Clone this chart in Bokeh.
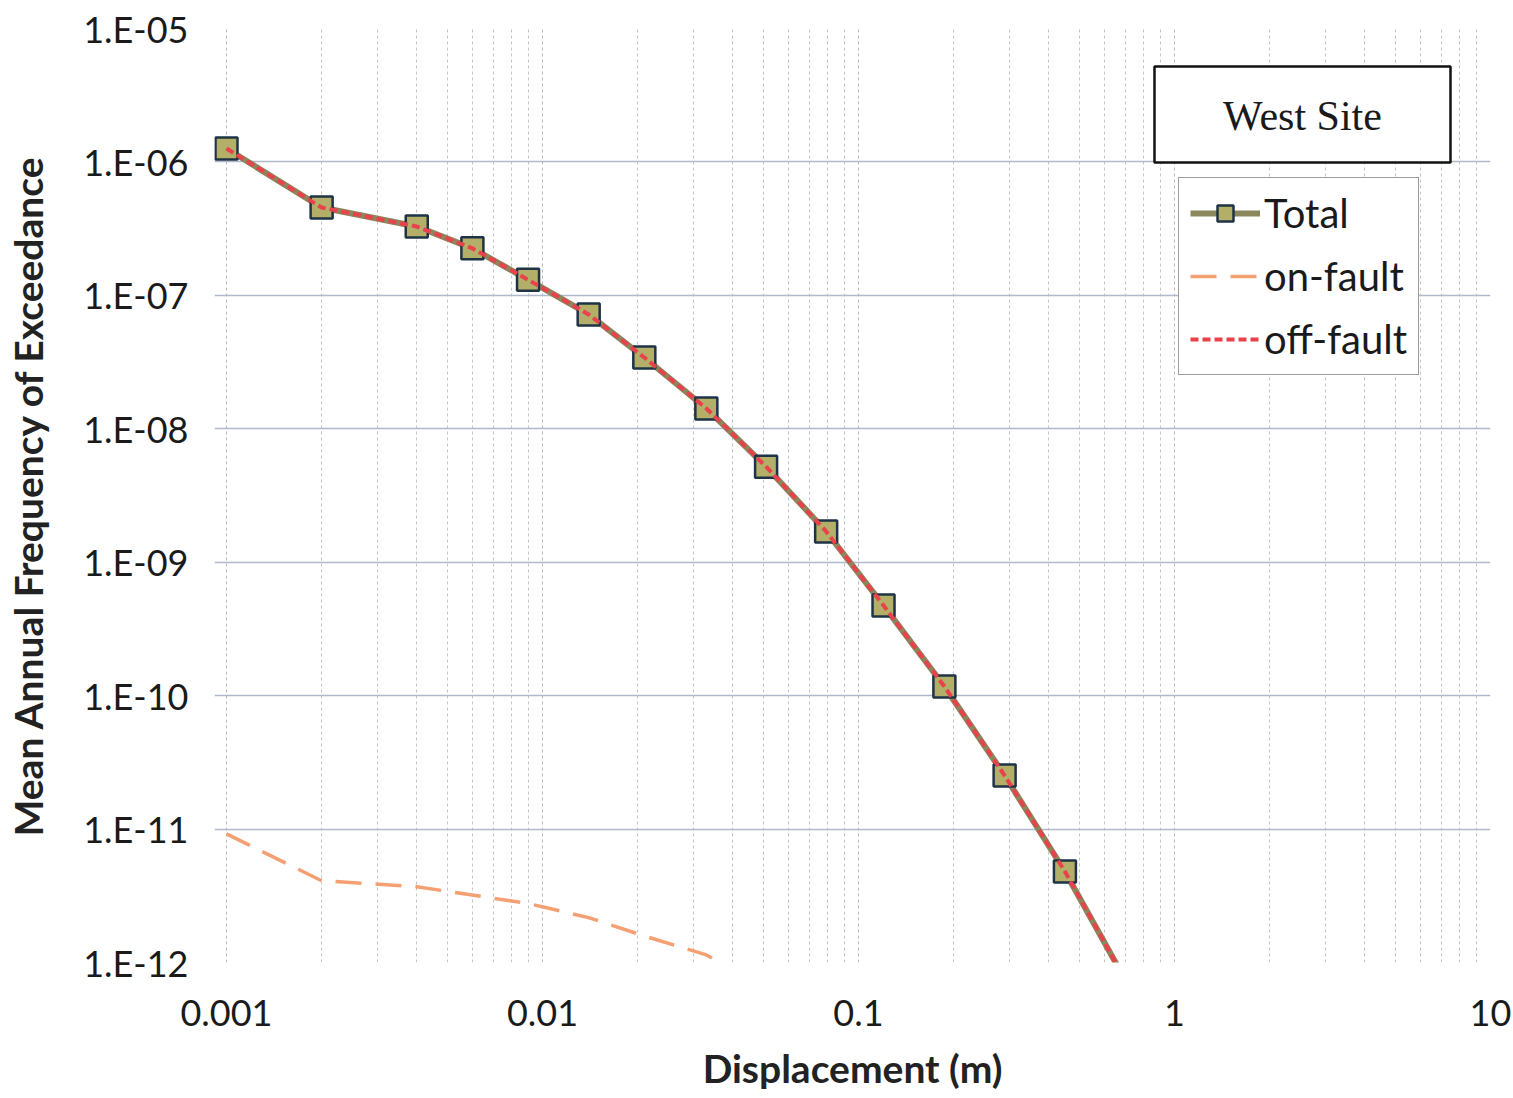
from bokeh.plotting import figure
from bokeh.models import (FixedTicker, CustomJSTickFormatter, Legend, LegendItem,
                          BoxAnnotation, Label)
from bokeh.embed import file_html
from bokeh.resources import INLINE

# Displacement hazard curve, West Site
displacement = [0.001, 0.002, 0.004, 0.006, 0.009, 0.014, 0.021, 0.033,
                0.051, 0.079, 0.12, 0.187, 0.29, 0.45, 0.69]
total = [1.26e-6, 4.55e-7, 3.28e-7, 2.25e-7, 1.31e-7, 7.2e-8, 3.42e-8, 1.42e-8,
         5.2e-9, 1.70e-9, 4.74e-10, 1.17e-10, 2.52e-11, 4.81e-12, 7.8e-13]
off_fault = [1.26e-6, 4.55e-7, 3.28e-7, 2.25e-7, 1.31e-7, 7.2e-8, 3.42e-8, 1.42e-8,
             5.2e-9, 1.70e-9, 4.74e-10, 1.17e-10, 2.52e-11, 4.81e-12, 7.8e-13]
on_fault_disp = [0.001, 0.002, 0.004, 0.006, 0.009, 0.014, 0.021, 0.033, 0.051]
on_fault = [9.2e-12, 4.1e-12, 3.7e-12, 3.2e-12, 2.77e-12, 2.17e-12, 1.58e-12,
            1.14e-12, 6.3e-13]

x_tick_values = [0.001, 0.01, 0.1, 1, 10]
x_tick_labels = ["0.001", "0.01", "0.1", "1", "10"]
y_tick_values = [1e-12, 1e-11, 1e-10, 1e-9, 1e-8, 1e-7, 1e-6, 1e-5]
y_tick_labels = ["1.E-12", "1.E-11", "1.E-10", "1.E-09", "1.E-08", "1.E-07",
                 "1.E-06", "1.E-05"]

FONT = "Lato"

# a small margin left of 0.001 so the first marker is not cut and the
# horizontal gridlines stick out like tick marks
x_start = 10 ** (-3 - 12 / 316)

p = figure(width=1513, height=1098, x_axis_type="log", y_axis_type="log",
           x_range=(x_start, 10), y_range=(1e-12, 1e-5),
           output_backend="svg", toolbar_location=None,
           min_border_left=214, min_border_right=23,
           min_border_top=28, min_border_bottom=136,
           outline_line_color=None,
           background_fill_color="white", border_fill_color="white")

# ticks: decades, with 2..9 minor positions on the displacement axis
x_minor = [m * 10.0 ** e for e in range(-3, 1) for m in range(2, 10)]
xt = FixedTicker(ticks=x_tick_values, minor_ticks=x_minor)
yt = FixedTicker(ticks=y_tick_values)
p.xaxis.ticker = xt
p.yaxis.ticker = yt
p.xgrid.ticker = xt
p.ygrid.ticker = yt

fmt_code = """
const e = Math.round(Math.log10(tick));
for (let i = 0; i < vals.length; i++) {
  if (Math.round(Math.log10(vals[i])) == e) return labels[i];
}
return "";
"""
p.xaxis.formatter = CustomJSTickFormatter(args=dict(vals=x_tick_values, labels=x_tick_labels), code=fmt_code)
p.yaxis.formatter = CustomJSTickFormatter(args=dict(vals=y_tick_values, labels=y_tick_labels), code=fmt_code)

# grid
p.xgrid.grid_line_color = "#B8B8B8"
p.xgrid.grid_line_dash = "3 3"
p.xgrid.grid_line_width = 1
p.xgrid.minor_grid_line_color = "#C4C4C4"
p.xgrid.minor_grid_line_dash = "3 3"
p.xgrid.minor_grid_line_width = 1
p.ygrid.grid_line_color = "#AEB9CC"
p.ygrid.grid_line_width = 1.5

# axes
for ax in (p.xaxis[0], p.yaxis[0]):
    ax.axis_line_color = None
    ax.minor_tick_line_color = None
    ax.major_tick_line_color = None
    ax.major_tick_out = 0
    ax.major_tick_in = 0
    ax.major_label_text_font = FONT
    ax.major_label_text_font_size = "36px"
    ax.major_label_text_color = "#1a1a1a"
    ax.axis_label_text_font = FONT
    ax.axis_label_text_font_style = "bold"
    ax.axis_label_text_font_size = "39px"
    ax.axis_label_text_color = "#222222"

p.xaxis.major_label_standoff = 33
p.xaxis.axis_label = "Displacement (m)"
p.xaxis.axis_label_standoff = 16

p.yaxis.major_label_standoff = 26
p.yaxis.axis_label = "Mean Annual Frequency of Exceedance"
p.yaxis.axis_label_standoff = 29

# curves
r_tot = p.line(displacement, total, line_color="#8A875C", line_width=6)
r_pts = p.scatter(displacement, total, marker="square", size=22,
                  fill_color="#B3AE68", line_color="#1F3347", line_width=2.5)
r_on = p.line(on_fault_disp, on_fault, line_color="#F4A072", line_width=3.5,
              line_dash="26 14")
r_off = p.line(displacement, off_fault, line_color="#E8424C", line_width=4,
               line_dash="8 4")

legend = Legend(items=[LegendItem(label="Total", renderers=[r_tot, r_pts]),
                       LegendItem(label="on-fault", renderers=[r_on]),
                       LegendItem(label="off-fault", renderers=[r_off])],
                location=(964, 587), orientation="vertical",
                padding=11, spacing=15, margin=0,
                glyph_width=70, glyph_height=40, label_height=40,
                label_standoff=4,
                label_text_font=FONT, label_text_font_size="40px",
                label_text_color="#1a1a1a",
                border_line_color="#3a3a3a", border_line_width=1.5,
                background_fill_color="white", background_fill_alpha=1.0)
p.add_layout(legend)

# site caption box
p.add_layout(BoxAnnotation(left=940, right=1236, top=896, bottom=800,
                           left_units="screen", right_units="screen",
                           top_units="screen", bottom_units="screen",
                           fill_color="white", fill_alpha=1.0,
                           line_color="#111111", line_alpha=1.0, line_width=2.5))
p.add_layout(Label(x=1088, y=847, x_units="screen", y_units="screen",
                   text="West Site", text_font="Liberation Serif",
                   text_font_size="42px", text_color="#1a1a1a",
                   text_align="center", text_baseline="middle"))

open("out.html", "w").write(file_html(p, INLINE))
